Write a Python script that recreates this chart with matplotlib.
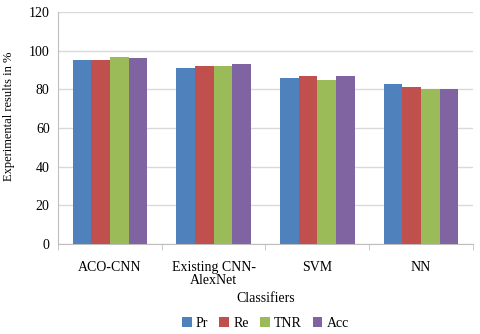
import numpy as np
import matplotlib
matplotlib.use("Agg")
import matplotlib.pyplot as plt

plt.rcParams['font.family'] = ['Liberation Serif', 'DejaVu Serif']

classifiers = ["ACO-CNN", "Existing CNN-\nAlexNet", "SVM", "NN"]
series = ["Pr", "Re", "TNR", "Acc"]
pr = [95, 91, 86, 83]
re = [95, 92, 87, 81]
tnr = [96.5, 92, 85, 80]
acc = [96, 93, 87, 80]
colors = ["#4F81BD", "#C0504D", "#9BBB59", "#8064A2"]

fig = plt.figure(figsize=(4.8, 3.34), dpi=100)
ax = fig.add_axes([0.121, 0.269, 0.864, 0.695])

x = np.arange(len(classifiers))
w = 0.18
for i, (vals, name) in enumerate(zip([pr, re, tnr, acc], series)):
    ax.bar(x + (i - 1.5) * w, vals, w, color=colors[i], label=name, zorder=3)

ax.set_ylim(0, 120)
ax.set_xlim(-0.5, len(classifiers) - 0.5)
ax.set_yticks(range(0, 121, 20))
ax.yaxis.grid(True, color="#d9d9d9", linewidth=1, zorder=0)
ax.set_xticks(x)
ax.set_xticklabels(classifiers, fontsize=10, linespacing=1.0)
ax.set_xticks(np.arange(-0.5, len(classifiers)), minor=True)
ax.tick_params(axis="x", which="major", length=0, pad=12)
ax.tick_params(axis="x", which="minor", length=4, color="#bfbfbf")
ax.tick_params(axis="y", length=0, labelsize=10, pad=6)
for s in ["top", "right"]:
    ax.spines[s].set_visible(False)
ax.spines["left"].set_color("#bfbfbf")
ax.spines["bottom"].set_color("#bfbfbf")

ax.set_ylabel("Experimental results in %", fontsize=9)
ax.yaxis.set_label_coords(-0.105, 0.55)
ax.set_xlabel("Classifiers", fontsize=10)
ax.xaxis.set_label_coords(0.5, -0.205)
ax.legend(loc="center", bbox_to_anchor=(0.5, -0.34), ncol=4, frameon=False,
          fontsize=10, handlelength=0.7, handleheight=0.7, handletextpad=0.3,
          columnspacing=0.8)

fig.savefig("out.png", dpi=100)
